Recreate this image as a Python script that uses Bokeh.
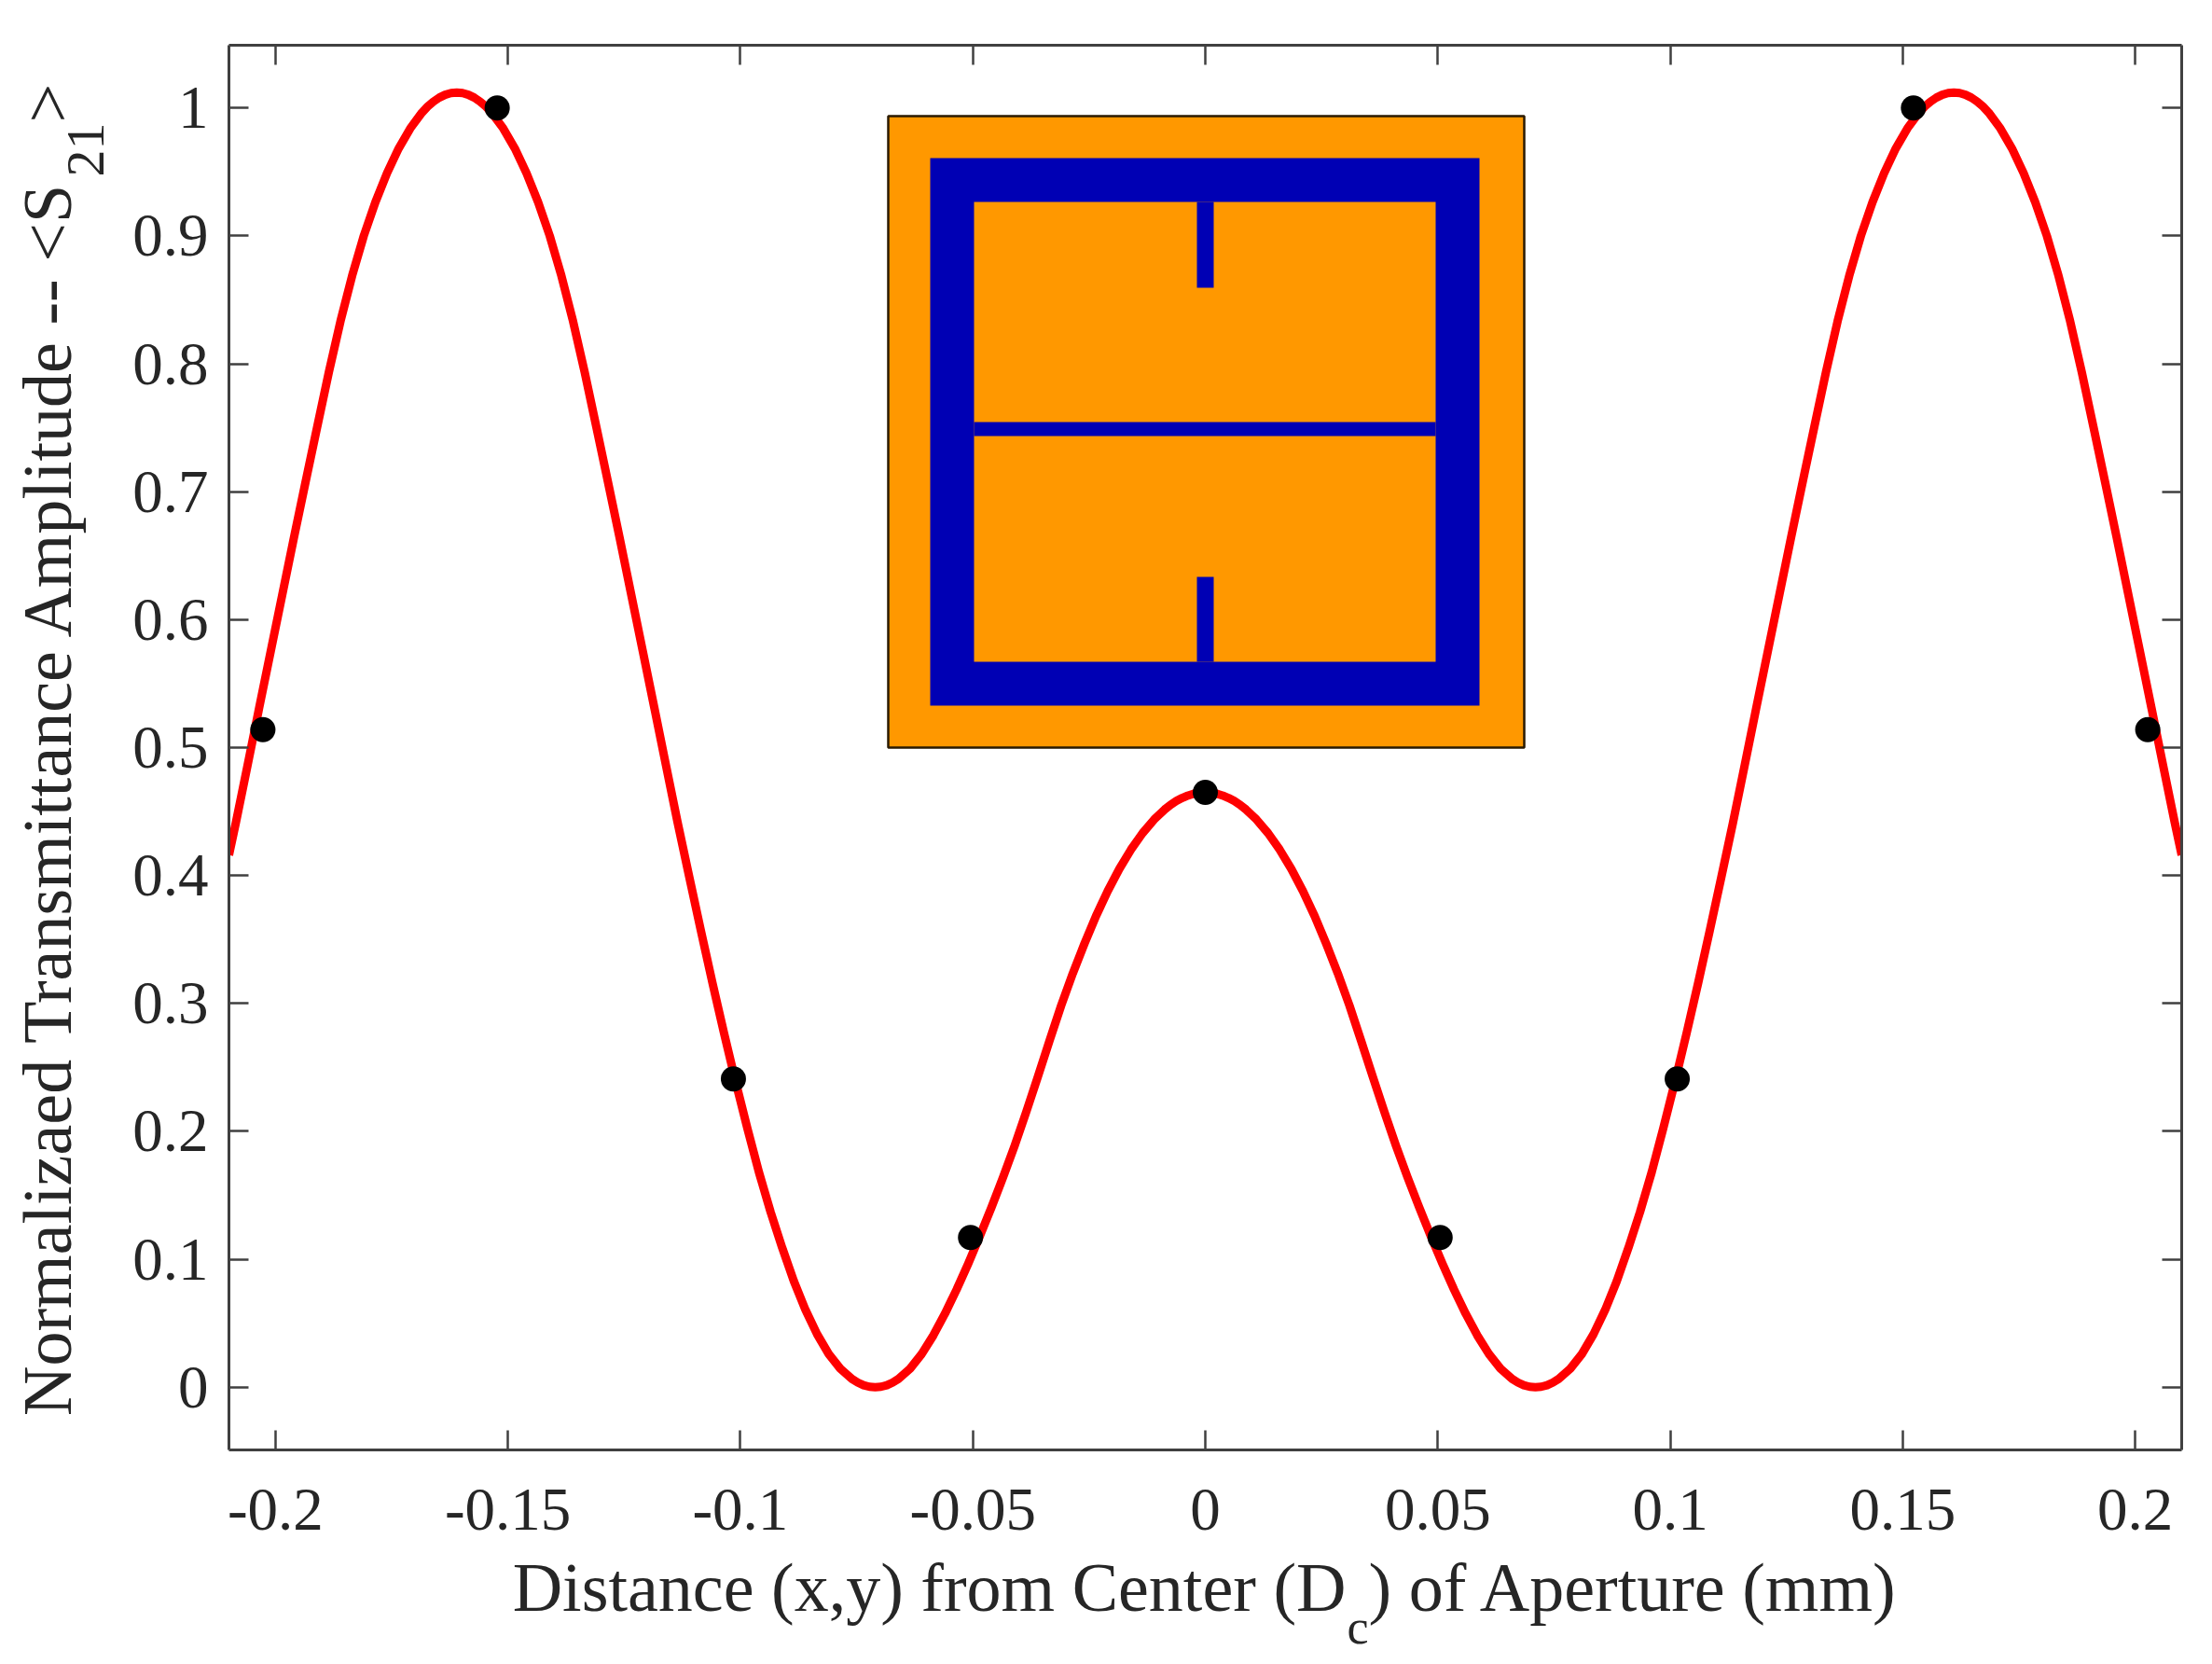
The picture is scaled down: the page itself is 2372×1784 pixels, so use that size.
from math import pi
from bokeh.plotting import figure
from bokeh.embed import file_html
from bokeh.layouts import column
from bokeh.resources import INLINE
from bokeh.models import FixedTicker, Label, LinearAxis, Range1d

# ---------- data ----------
curve_x_left = [
    -0.21, -0.2085, -0.206, -0.2035, -0.201, -0.1985, -0.196, -0.1935, -0.191, -0.1885,
    -0.186, -0.1835, -0.181, -0.1785, -0.176, -0.1735, -0.171, -0.1685, -0.16725, -0.166,
    -0.16475, -0.1635, -0.16225, -0.161, -0.15975, -0.1585, -0.15725, -0.156, -0.15475, -0.1535,
    -0.151, -0.1485, -0.146, -0.1435, -0.141, -0.1385, -0.136, -0.1335, -0.131, -0.1285,
    -0.126, -0.1235, -0.121, -0.1185, -0.116, -0.1135, -0.111, -0.1085, -0.106, -0.1035,
    -0.101, -0.0985, -0.096, -0.0935, -0.091, -0.0885, -0.086, -0.0835, -0.081, -0.0785,
    -0.076, -0.07475, -0.0735, -0.07225, -0.071, -0.06975, -0.0685, -0.06725, -0.066, -0.0635,
    -0.061, -0.0585, -0.056, -0.0535, -0.051, -0.0485, -0.046, -0.0435, -0.041, -0.0385,
    -0.036, -0.0335, -0.031, -0.0285, -0.026, -0.0235, -0.021, -0.0185, -0.016, -0.0135,
    -0.011, -0.00875, -0.0075, -0.00625, -0.005, -0.00375, -0.0025, -0.00125,
]
curve_y_left = [
    0.416, 0.4415, 0.486, 0.531, 0.5755, 0.620, 0.6645, 0.708, 0.751, 0.7936,
    0.8334, 0.8689, 0.900, 0.9263, 0.949, 0.9683, 0.984, 0.9963, 1.0011, 1.005,
    1.0081, 1.0103, 1.0116, 1.012, 1.0116, 1.0103, 1.0081, 1.005, 1.0011, 0.9963,
    0.984, 0.9683, 0.949, 0.9263, 0.900, 0.8689, 0.8334, 0.7936, 0.751, 0.708,
    0.6645, 0.620, 0.5755, 0.531, 0.486, 0.4415, 0.399, 0.357, 0.316, 0.2765,
    0.2385, 0.2025, 0.168, 0.137, 0.109, 0.083, 0.0605, 0.0415, 0.026, 0.0145,
    0.0065, 0.0037, 0.0016, 0.0004, 0.0, 0.0004, 0.0016, 0.0037, 0.0065, 0.0145,
    0.026, 0.0405, 0.0575, 0.0763, 0.0966, 0.1181, 0.1406, 0.1641, 0.1889, 0.2154,
    0.2429, 0.2709, 0.2984, 0.3235, 0.3467, 0.3684, 0.3878, 0.4051, 0.4202, 0.4331,
    0.4438, 0.4516, 0.4552, 0.4582, 0.4606, 0.4625, 0.4639, 0.4647,
]
curve_center_y = 0.465

dot_x = [-0.2027, -0.1523, -0.1015, -0.0505, 0.0, 0.0505, 0.1015, 0.1523, 0.2027]
dot_y = [0.514, 1.0, 0.241, 0.117, 0.465, 0.117, 0.241, 1.0, 0.514]

x_ticks = [-0.2, -0.15, -0.1, -0.05, 0, 0.05, 0.1, 0.15, 0.2]
x_tick_labels = ["-0.2", "-0.15", "-0.1", "-0.05", "0", "0.05", "0.1", "0.15", "0.2"]
y_ticks = [0, 0.1, 0.2, 0.3, 0.4, 0.5, 0.6, 0.7, 0.8, 0.9, 1]
y_tick_labels = ["0", "0.1", "0.2", "0.3", "0.4", "0.5", "0.6", "0.7", "0.8", "0.9", "1"]

# ---------- layout ----------
X0, X1 = -0.21, 0.21
Y0, Y1 = -0.049, 1.049
F_L, F_R, F_T, F_B = 245, 2339, 48, 1554   # frame edges in picture pixels
W, H = 2356, 1768
SERIF = "Liberation Serif"
INK = "#262626"
AXIS = "#404040"


def dx(px):
    return X0 + (px - F_L) / (F_R - F_L) * (X1 - X0)


def dy(py):
    return Y0 + (F_B - py) / (F_B - F_T) * (Y1 - Y0)


p = figure(
    output_backend="svg", toolbar_location=None,
    width=W, height=H,
    frame_width=F_R - F_L, frame_height=F_B - F_T, frame_align=False,
    min_border_left=F_L, min_border_top=F_T,
    min_border_right=W - F_R, min_border_bottom=H - F_B,
    x_range=Range1d(X0, X1), y_range=Range1d(Y0, Y1),
    background_fill_color="white", border_fill_color="white",
    outline_line_color=None,
)
p.grid.visible = False


def style(ax, ticks, labels):
    ax.ticker = FixedTicker(ticks=ticks)
    ax.minor_tick_line_color = None
    ax.major_tick_in = 21
    ax.major_tick_out = 0
    ax.major_tick_line_color = AXIS
    ax.major_tick_line_width = 2.5
    ax.axis_line_color = AXIS
    ax.axis_line_width = 3
    ax.major_label_overrides = dict(zip(ticks, labels))
    ax.major_label_text_font = SERIF
    ax.major_label_text_font_size = "65px"
    ax.major_label_text_color = INK


style(p.xaxis[0], x_ticks, x_tick_labels)
style(p.yaxis[0], y_ticks, y_tick_labels)
p.xaxis[0].major_label_standoff = 42
p.yaxis[0].major_label_standoff = 22
top_ax = LinearAxis()
right_ax = LinearAxis()
style(top_ax, x_ticks, [""] * len(x_ticks))
style(right_ax, y_ticks, [""] * len(y_ticks))
top_ax.major_label_text_font_size = "1px"
right_ax.major_label_text_font_size = "1px"
top_ax.major_label_standoff = 0
right_ax.major_label_standoff = 0
p.add_layout(top_ax, "above")
p.add_layout(right_ax, "right")

# ---------- inset diagram (pixel layout of the drawing) ----------
ORANGE = "#FF9800"
BLUE = "#0000B4"


def box(l, r, t, b, color, **kw):
    p.quad(left=dx(l), right=dx(r), top=dy(t), bottom=dy(b),
           fill_color=color, line_color=kw.get("line", None), line_width=kw.get("lw", 0))


box(952, 1634, 124, 801, ORANGE, line="#2a1a00", lw=2.5)
box(997, 1586, 169, 756, BLUE)
box(1044, 1539, 216, 709, ORANGE)
box(1044, 1539, 452, 467, BLUE)
box(1283, 1301, 216, 308, BLUE)
box(1283, 1301, 618, 709, BLUE)

# ---------- curve and points ----------
curve_x = curve_x_left + [0.0] + [-v for v in reversed(curve_x_left)]
curve_y = curve_y_left + [curve_center_y] + list(reversed(curve_y_left))
p.line(curve_x, curve_y, line_color="#FF0000", line_width=9, line_join="round")
p.scatter(dot_x, dot_y, size=27, marker="circle", fill_color="black", line_color="black", line_width=0)

# ---------- axis titles with subscripts: a clear full-size sheet over the plot ----------
sheet = figure(
    output_backend="svg", toolbar_location=None, width=W, height=H,
    frame_width=W, frame_height=H, frame_align=False,
    x_axis_type=None, y_axis_type=None,
    min_border=0, min_border_left=0, min_border_right=0, min_border_top=0, min_border_bottom=0,
    x_range=Range1d(0, W), y_range=Range1d(H, 0),
    background_fill_color=None, border_fill_color=None, outline_line_color=None,
    margin=(-H, 0, 0, 0),
)
sheet.grid.visible = False


def label(px, py, text, size, align="left", angle=0.0):
    sheet.add_layout(Label(
        x=px, y=py, x_units="canvas", y_units="canvas",
        text=text, text_font=SERIF, text_font_size=f"{size}px",
        text_color=INK, text_align=align, text_baseline="alphabetic", angle=angle,
    ))


label(1443, 1701, "Distance (x,y) from Center (D", 74, "right")
label(1444, 1744, "c", 52)
label(1467, 1701, ") of Aperture (mm)", 74)

label(50, 192, "Normalizaed Transmittance Amplitude -- <S", 74, "right", pi / 2)
label(91, 189, "21", 58, "left", pi / 2)
label(50, 131, ">", 74, "left", pi / 2)

open("out.html", "w").write(file_html(column(p, sheet, spacing=0), INLINE))
